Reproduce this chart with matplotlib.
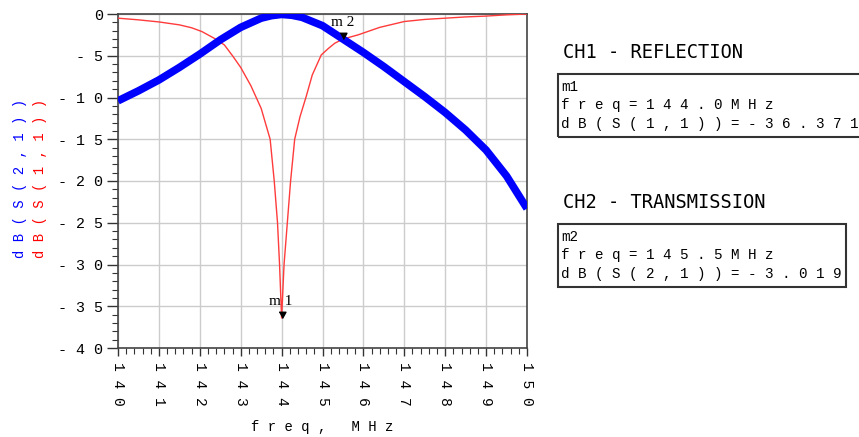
import numpy as np
import matplotlib
matplotlib.use('Agg')
import matplotlib.pyplot as plt
from matplotlib.patches import Rectangle
from matplotlib.ticker import MultipleLocator

# S(2,1) transmission, dB
f21 = [140, 140.5, 141, 141.5, 142, 142.5, 143, 143.5, 143.75, 144, 144.25,
       144.5, 145, 145.5, 146, 146.5, 147, 147.5, 148, 148.5, 149, 149.5, 150]
s21 = [-10.4, -9.2, -7.9, -6.4, -4.8, -3.1, -1.6, -0.5, -0.2, -0.05, -0.15,
       -0.4, -1.4, -3.0, -4.6, -6.3, -8.1, -9.9, -11.8, -13.9, -16.3, -19.4, -23.3]

# S(1,1) reflection, dB
f11 = [140, 140.5, 141, 141.5, 141.8, 142.05, 142.35, 142.6, 142.8, 143.0,
       143.25, 143.5, 143.72, 143.82, 143.9, 143.95, 144.0, 144.06, 144.14,
       144.22, 144.32, 144.45, 144.6, 144.75, 144.97, 145.15, 145.3, 145.5,
       145.87, 146.4, 147, 147.5, 148, 148.5, 149, 149.5, 150]
s11 = [-0.5, -0.7, -0.95, -1.3, -1.65, -2.1, -2.9, -3.7, -5.0, -6.4,
       -8.6, -11.3, -15, -20, -25, -30, -36.4, -30, -25,
       -20, -15, -12.3, -9.9, -7.3, -4.9, -4.1, -3.5, -3.0,
       -2.5, -1.6, -0.9, -0.65, -0.5, -0.35, -0.25, -0.1, 0.0]

m1 = (144.0, -36.371)
m2 = (145.5, -3.019)

xticks = np.arange(140, 151)
yticks = np.arange(-40, 1, 5)


def spaced(s):
    return ' '.join(s)


W, H = 859, 437
fig = plt.figure(figsize=(W / 100, H / 100), dpi=100)
ax = fig.add_axes([118 / W, 1 - 348 / H, (527 - 118) / W, (348 - 14) / H])

mono = 'Liberation Mono'

ax.plot(f11, s11, color='#ff3b3b', lw=1.0, zorder=3)
ax.plot(f21, s21, color='#0000ff', lw=5.5, zorder=4, solid_capstyle='butt')

tri = [(-0.55, 1.0), (0.55, 1.0), (0.0, 0.0)]
ax.plot(*m1, marker=tri, color='black', ms=9, zorder=6, clip_on=False)
ax.plot(*m2, marker=tri, color='black', ms=9, zorder=6, clip_on=False)
ax.annotate('m 1', m1, xytext=(-1, 7), textcoords='offset points',
            ha='center', va='bottom', fontsize=11, family='Liberation Serif', zorder=7)
ax.annotate('m 2', m2, xytext=(0, 7), textcoords='offset points',
            ha='center', va='bottom', fontsize=11, family='Liberation Serif', zorder=7)

ax.set_xlim(140, 150)
ax.set_ylim(-40, 0)
ax.set_xticks(xticks)
ax.set_yticks(yticks)
ax.xaxis.set_minor_locator(MultipleLocator(0.2))
ax.yaxis.set_minor_locator(MultipleLocator(1))
ax.set_xticklabels([spaced(str(v)) for v in xticks], rotation=-90,
                   family=mono, fontsize=10.5)
ax.set_yticklabels([spaced(str(v)) if v != 0 else '0' for v in yticks],
                   family=mono, fontsize=10.8)
ax.tick_params(axis='y', which='major', length=8, width=1, color='#333333', pad=3)
ax.tick_params(axis='x', which='major', length=6, width=1, color='#333333', pad=4)
ax.tick_params(which='minor', length=4, width=0.8, color='#333333')
ax.grid(True, which='major', color='#cccccc', lw=1)
ax.set_axisbelow(True)
for sp in ax.spines.values():
    sp.set_color('#444444')
    sp.set_linewidth(1.2)

fig.text(322 / W, 1 - 427 / H, 'f r e q ,   M H z', family=mono, fontsize=10,
         ha='center', va='center')
fig.text(20 / W, 1 - 178 / H, spaced('dB(S(2,1))'), family=mono, fontsize=10,
         color='#0000ff', rotation=90, ha='center', va='center')
fig.text(40 / W, 1 - 178 / H, spaced('dB(S(1,1))'), family=mono, fontsize=10,
         color='#ff0000', rotation=90, ha='center', va='center')

# marker readouts
fig.text(563 / W, 1 - 53 / H, 'CH1 - REFLECTION', family='DejaVu Sans Mono',
         fontsize=13.5, ha='left', va='center')
fig.text(563 / W, 1 - 203 / H, 'CH2 - TRANSMISSION', family='DejaVu Sans Mono',
         fontsize=13.5, ha='left', va='center')

fig.patches.append(Rectangle((558 / W, 1 - 137 / H), (W + 10 - 558) / W, 63 / H,
                             transform=fig.transFigure, fill=False,
                             ec='#333333', lw=1.5))
fig.patches.append(Rectangle((558 / W, 1 - 287 / H), (846 - 558) / W, 63 / H,
                             transform=fig.transFigure, fill=False,
                             ec='#333333', lw=1.5))

box1 = ['m1', spaced('freq=144.0MHz'), spaced('dB(S(1,1))=%.3f' % m1[1])]
box2 = ['m2', spaced('freq=145.5MHz'), spaced('dB(S(2,1))=%.3f' % m2[1])]
for lines, top in ((box1, 74), (box2, 224)):
    for i, t in enumerate(lines):
        fig.text(561 / W, 1 - (top + 13 + 18.5 * i) / H, t, family=mono,
                 fontsize=10.3, ha='left', va='center')

fig.savefig('out.png', dpi=100)
